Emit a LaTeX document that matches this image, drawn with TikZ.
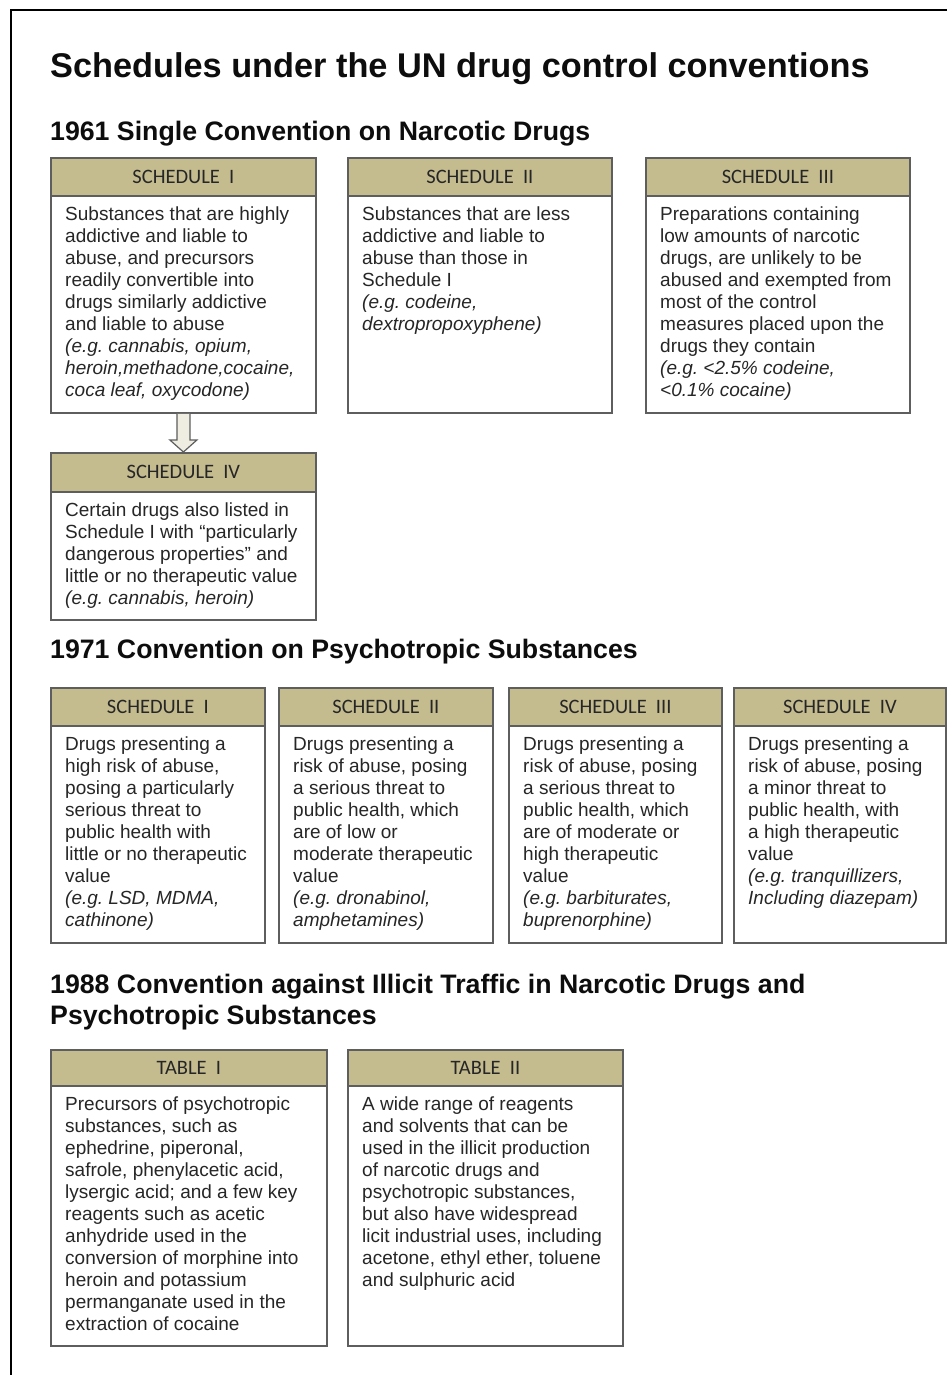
\documentclass[tikz,border=0pt]{standalone}
\usepackage{fontspec}
\setmainfont{Liberation Sans}
\newfontfamily\hdrfont{Carlito}
\usetikzlibrary{calc}
\frenchspacing
\definecolor{hdrfill}{HTML}{C4BB8F}
\definecolor{edge}{HTML}{5E5E5E}
\definecolor{txt}{HTML}{262626}
\definecolor{arrowfill}{HTML}{EFEDE1}
\tikzset{
 hdrbox/.style={draw=edge, line width=1.8pt, fill=hdrfill, inner sep=0pt, anchor=north west, font=\hdrfont\fontsize{20.5}{22}\selectfont, text=black!85},
 bodybox/.style={draw=edge, line width=1.8pt, fill=white, inner sep=0pt, anchor=north west},
 bodytext/.style={inner sep=0pt, anchor=north west, align=left, font=\fontsize{19}{22}\selectfont, text=txt},
 heading/.style={inner sep=0pt, anchor=base west, font=\bfseries\fontsize{26.7}{31}\selectfont, text=black!95},
 blockarrow/.style={draw=edge, line width=1.2pt, fill=arrowfill, line join=miter},
 frameline/.style={draw=black, line width=1.5pt},
}
% #1 name, #2 x1, #3 x2, #4 ytop, #5 yhead, #6 ybottom, #7 header, #8 body
\newcommand{\schedbox}[8]{%
 \node[bodybox, minimum width={#3-#2}, minimum height={#6-#5}] (#1b) at (#2,#5) {};
 \node[hdrbox, minimum width={#3-#2}, minimum height={#5-#4}] (#1h) at (#2,#4) {#7};
 \node[bodytext] (#1t) at ($(#1b.north west)+(15,12)$) {#8};
}
\newcommand{\gap}{\hspace{0.45em}}
\begin{document}
\begin{tikzpicture}[x=1pt, y=-1pt]
\fill[white] (0,0) rectangle (947,1375);
\useasboundingbox (0,0) rectangle (947,1375);
\draw[frameline] (11,1375) -- (11,10) -- (947,10);

\node[heading, font=\bfseries\fontsize{34.3}{38}\selectfont] (title) at (50,78) {Schedules under the UN drug control conventions};
\node[heading] (c1961) at (50,141) {1961 Single Convention on Narcotic Drugs};
\node[heading] (c1971) at (50,658) {1971 Convention on Psychotropic Substances};
\node[heading, anchor=north west, align=left] (c1988) at (50,974) {1988 Convention against Illicit Traffic in Narcotic Drugs and\\Psychotropic Substances};

% 1961
\schedbox{sa}{50}{315}{157}{195}{412}{SCHEDULE\gap I}{Substances that are highly\\addictive and liable to\\abuse, and precursors\\readily convertible into\\drugs similarly addictive\\and liable to abuse\\\textit{(e.g. cannabis, opium,}\\\textit{heroin,methadone,cocaine,}\\\textit{coca leaf, oxycodone)}}
\schedbox{sb}{347}{611}{157}{195}{412}{SCHEDULE\gap II}{Substances that are less\\addictive and liable to\\abuse than those in\\Schedule I\\\textit{(e.g. codeine,}\\\textit{dextropropoxyphene)}}
\schedbox{sc}{645}{909}{157}{195}{412}{SCHEDULE\gap III}{Preparations containing\\low amounts of narcotic\\drugs, are unlikely to be\\abused and exempted from\\most of the control\\measures placed upon the\\drugs they contain\\\textit{(e.g. <2.5\% codeine,}\\\textit{<0.1\% cocaine)}}
\schedbox{sd}{50}{315}{452}{491}{619}{SCHEDULE\gap IV}{Certain drugs also listed in\\Schedule I with “particularly\\dangerous properties” and\\little or no therapeutic value\\\textit{(e.g. cannabis, heroin)}}

\fill[blockarrow] ($(sab.south)+(-6.5,0)$) -- ($(sdh.north)+(-6.5,-12)$) -- ($(sdh.north)+(-13.5,-12)$) -- (sdh.north) -- ($(sdh.north)+(13.5,-12)$) -- ($(sdh.north)+(6.5,-12)$) -- ($(sab.south)+(6.5,0)$);

% 1971
\schedbox{pa}{50}{264}{687}{725}{942}{SCHEDULE\gap I}{Drugs presenting a\\high risk of abuse,\\posing a particularly\\serious threat to\\public health with\\little or no therapeutic\\value\\\textit{(e.g. LSD, MDMA,}\\\textit{cathinone)}}
\schedbox{pb}{278}{492}{687}{725}{942}{SCHEDULE\gap II}{Drugs presenting a\\risk of abuse, posing\\a serious threat to\\public health, which\\are of low or\\moderate therapeutic\\value\\\textit{(e.g. dronabinol,}\\\textit{amphetamines)}}
\schedbox{pc}{508}{721}{687}{725}{942}{SCHEDULE\gap III}{Drugs presenting a\\risk of abuse, posing\\a serious threat to\\public health, which\\are of moderate or\\high therapeutic\\value\\\textit{(e.g. barbiturates,}\\\textit{buprenorphine)}}
\schedbox{pd}{733}{945}{687}{725}{942}{SCHEDULE\gap IV}{Drugs presenting a\\risk of abuse, posing\\a minor threat to\\public health, with\\a high therapeutic\\value\\\textit{(e.g. tranquillizers,}\\\textit{Including diazepam)}}

% 1988
\schedbox{ta}{50}{326}{1049}{1085}{1345}{TABLE\gap I}{Precursors of psychotropic\\substances, such as\\ephedrine, piperonal,\\safrole, phenylacetic acid,\\lysergic acid; and a few key\\reagents such as acetic\\anhydride used in the\\conversion of morphine into\\heroin and potassium\\permanganate used in the\\extraction of cocaine}
\schedbox{tb}{347}{622}{1049}{1085}{1345}{TABLE\gap II}{A wide range of reagents\\and solvents that can be\\used in the illicit production\\of narcotic drugs and\\psychotropic substances,\\but also have widespread\\licit industrial uses, including\\acetone, ethyl ether, toluene\\and sulphuric acid}
\end{tikzpicture}
\end{document}
